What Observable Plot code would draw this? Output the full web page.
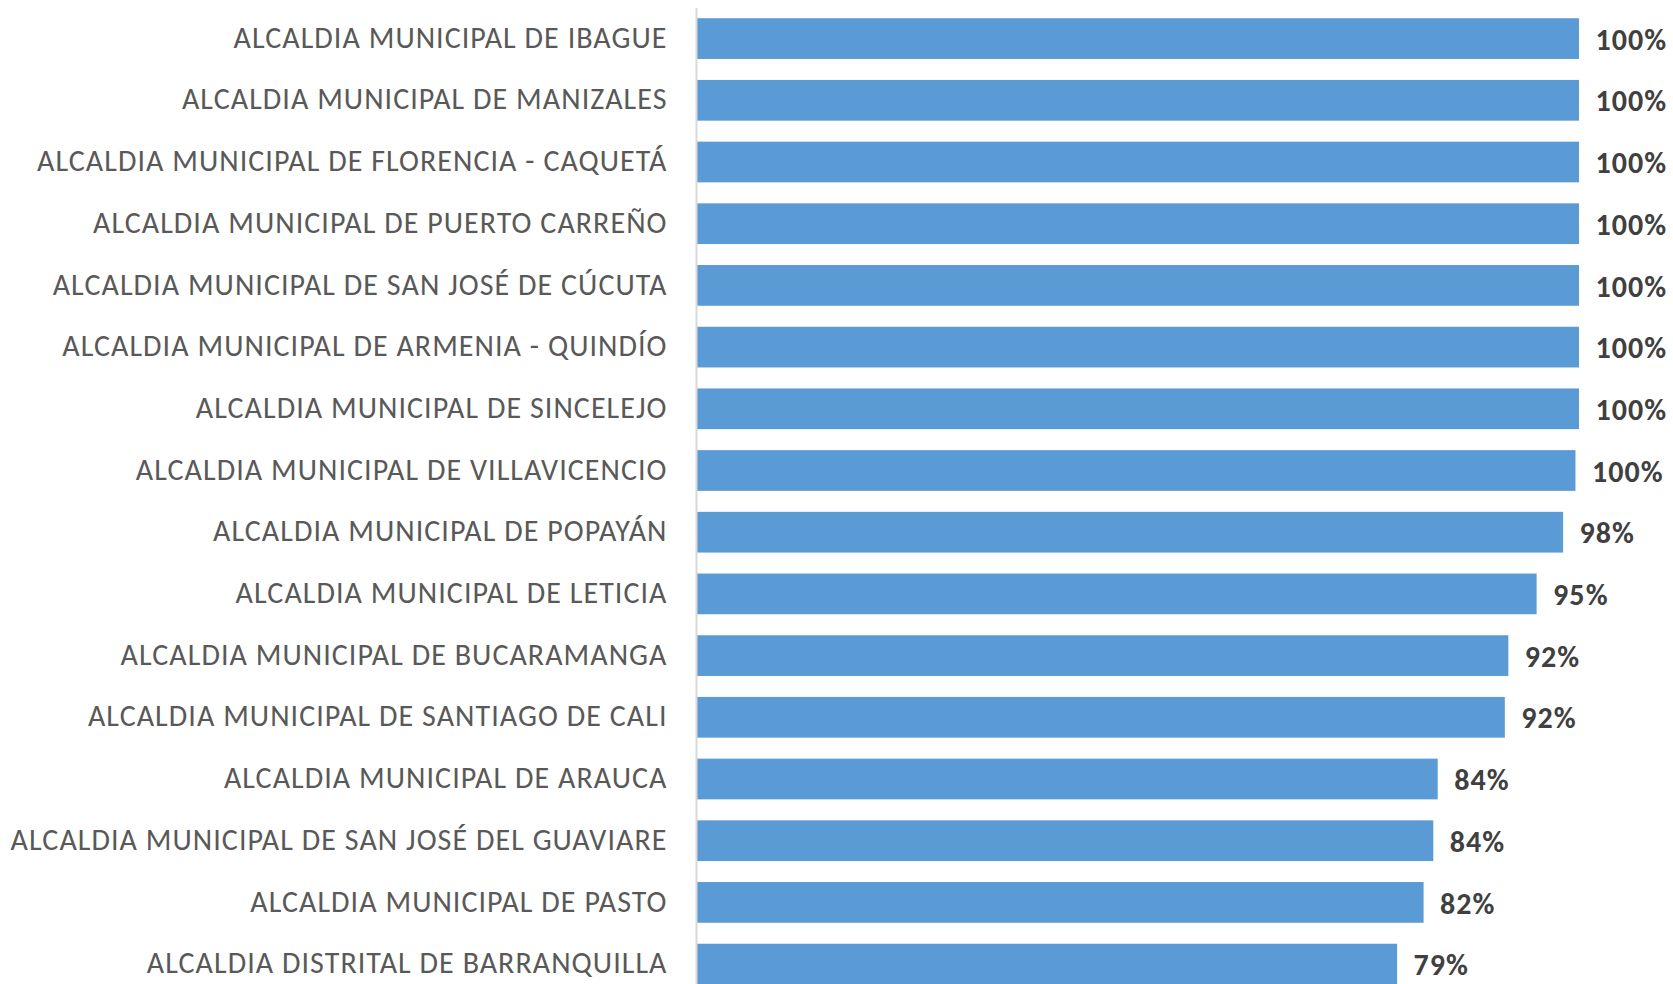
<!DOCTYPE html>
<html><head><meta charset="utf-8">
<script src="https://cdn.jsdelivr.net/npm/d3@7"></script>
<script src="https://cdn.jsdelivr.net/npm/@observablehq/plot@0.6"></script>
<style>html,body{margin:0;padding:0;overflow:hidden;background:#fff}</style>
</head><body><div id="chart"></div>
<script>
const entities = [
  "ALCALDIA MUNICIPAL DE IBAGUE",
  "ALCALDIA MUNICIPAL DE MANIZALES",
  "ALCALDIA MUNICIPAL DE FLORENCIA - CAQUETÁ",
  "ALCALDIA MUNICIPAL DE PUERTO CARREÑO",
  "ALCALDIA MUNICIPAL DE SAN JOSÉ DE CÚCUTA",
  "ALCALDIA MUNICIPAL DE ARMENIA - QUINDÍO",
  "ALCALDIA MUNICIPAL DE SINCELEJO",
  "ALCALDIA MUNICIPAL DE VILLAVICENCIO",
  "ALCALDIA MUNICIPAL DE POPAYÁN",
  "ALCALDIA MUNICIPAL DE LETICIA",
  "ALCALDIA MUNICIPAL DE BUCARAMANGA",
  "ALCALDIA MUNICIPAL DE SANTIAGO DE CALI",
  "ALCALDIA MUNICIPAL DE ARAUCA",
  "ALCALDIA MUNICIPAL DE SAN JOSÉ DEL GUAVIARE",
  "ALCALDIA MUNICIPAL DE PASTO",
  "ALCALDIA DISTRITAL DE BARRANQUILLA"
];
const values = [1, 1, 1, 1, 1, 1, 1, 0.996, 0.982, 0.952, 0.92, 0.916, 0.84, 0.835, 0.824, 0.794];
const data = entities.map((name, i) => ({name, value: values[i]}));
const fontFam = "Carlito, Calibri, Lato, sans-serif";
const chart = Plot.plot({
  width: 1673, height: 1000,
  marginTop: 7.75, marginBottom: 5.05, marginLeft: 696, marginRight: 94,
  style: {fontFamily: fontFam, background: "#fff", letterSpacing: "1.05px"},
  x: {domain: [0, 1], axis: null},
  y: {domain: entities, paddingInner: 0.34, paddingOuter: 0.17, round: false, label: null},
  marks: [
    Plot.barX(data, {x: "value", y: "name", fill: "#5b9bd5"}),
    Plot.ruleX([0], {stroke: "#d9d9d9", strokeWidth: 2}),
    Plot.axisY({tickSize: 0, tickPadding: 29, dy: -1, fontSize: 30, fill: "#595959", label: null}),
    Plot.text(data, {x: "value", y: "name", text: d => d3.format(".0%")(d.value), dx: 16, dy: 1, textAnchor: "start", fontWeight: "bold", fill: "#404040", fontSize: 30})
  ]
});
document.getElementById("chart").appendChild(chart);
</script></body></html>
